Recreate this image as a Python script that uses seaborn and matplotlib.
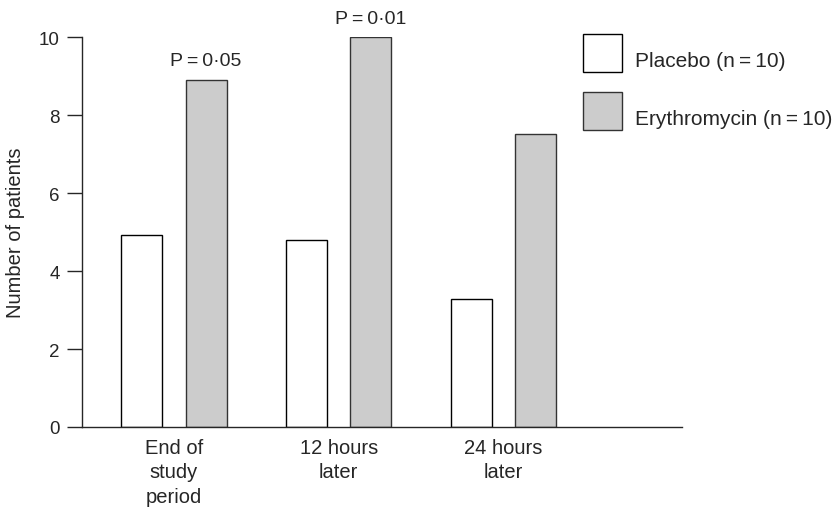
import matplotlib.pyplot as plt
import matplotlib.transforms as mtransforms
import pandas as pd
import seaborn as sns

# values
periods = ["End of\nstudy\nperiod", "12 hours\nlater", "24 hours\nlater"]
placebo = [4.93, 4.81, 3.28]
erythromycin = [8.91, 10.0, 7.51]
groups = ["Placebo (n\u2009=\u200910)", "Erythromycin (n\u2009=\u200910)"]
p_labels = ["P\u2009=\u20090\u00b705", "P\u2009=\u20090\u00b701", ""]

df = pd.DataFrame({
    "period": periods * 2,
    "patients": placebo + erythromycin,
    "group": [groups[0]] * 3 + [groups[1]] * 3,
})

sns.set_style("ticks")
plt.rcParams["font.family"] = ["Liberation Sans", "DejaVu Sans"]

fig = plt.figure(figsize=(8.38, 5.10), dpi=100)
ax = fig.add_axes([0.0979, 0.1608, 0.716, 0.7641])

sns.barplot(data=df, x="period", y="patients", hue="group",
            palette=["white", "#cccccc"], width=0.78, gap=0.36,
            linewidth=1.0, errorbar=None, legend=False, ax=ax)

# black outline for placebo, dark grey for erythromycin
for cont, ec in zip(ax.containers, ["black", "#333333"]):
    for bar in cont:
        bar.set_edgecolor(ec)

ax.bar_label(ax.containers[1], labels=p_labels, padding=7.5, fontsize=14)

ax.set_xlim(-0.558, 3.083)
ax.set_ylim(0, 10)
ax.set_yticks(range(0, 11, 2))
ax.set_xlabel("")
ax.set_ylabel("Number of patients", fontsize=14.5, labelpad=10)
ax.tick_params(axis="y", length=11, width=1, pad=5, labelsize=13.5)
ax.tick_params(axis="x", length=0, pad=8, labelsize=14.5)
for lab in ax.get_xticklabels():
    lab.set_linespacing(1.35)
sns.despine(ax=ax)
for sp in ax.spines.values():
    sp.set_linewidth(1.0)

leg = ax.legend(ax.containers[:2], groups, loc="upper left",
                bbox_to_anchor=(0.6957, 0.9314), bbox_transform=fig.transFigure,
                frameon=False, borderpad=0, borderaxespad=0, fontsize=15,
                handlelength=1.88, handleheight=2.45, labelspacing=0.95,
                handletextpad=0.63)
# labels sit a little lower than the box centre in the original
shift = mtransforms.ScaledTranslation(0, -0.06, fig.dpi_scale_trans)
for t in leg.get_texts():
    t.set_transform(t.get_transform() + shift)

fig.savefig("out.png", dpi=100)
